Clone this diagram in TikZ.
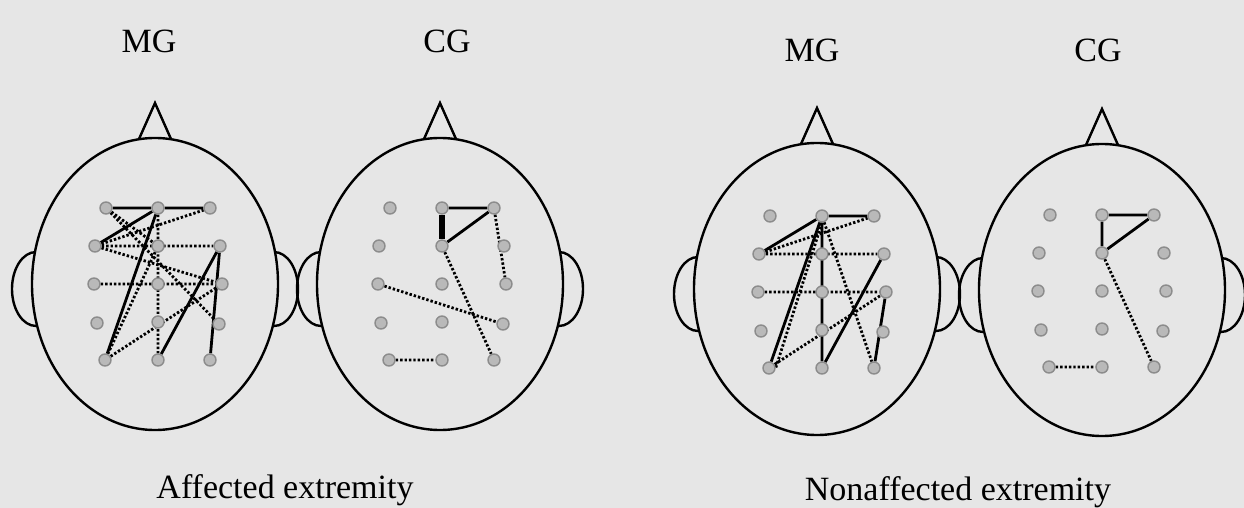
\documentclass[tikz,border=0pt]{standalone}
\usepackage{fontspec}
\setmainfont{Liberation Serif}
\usetikzlibrary{backgrounds}
\definecolor{scalpbg}{RGB}{230,230,230}
\definecolor{electrodefill}{RGB}{185,185,185}
\definecolor{electrodeline}{RGB}{140,140,140}

\begin{document}
\begin{tikzpicture}[x=0.5pt,y=-0.5pt,
    font=\fontsize{17}{20}\selectfont,
    electrode/.style={circle,draw=electrodeline,fill=electrodefill,line width=0.7pt,inner sep=0pt,minimum size=6pt},
    outline/.style={line width=1.2pt},
    strong/.style={line width=1.4pt},
    weak/.style={line width=1.4pt,dash pattern=on 1.2pt off 1pt},
    caption/.style={anchor=base}]
  \useasboundingbox (0,0) rectangle (1244,508);
  \begin{scope}[on background layer]
    \fill[scalpbg] (0,0) rectangle (1244,508);
    \foreach \hx/\hy in {155/284,440/284,817/289,1102/290}{
      \draw[outline] ({\hx-119},{\hy+5}) ellipse (12pt and 18.5pt)
        ({\hx+119},{\hy+5}) ellipse (12pt and 18.5pt);
      \filldraw[outline,fill=scalpbg] (\hx,\hy) ellipse (61.5pt and 73pt);
      \draw[outline] ({\hx-16},{\hy-145}) -- (\hx,{\hy-181}) -- ({\hx+16},{\hy-145});
    }
  \end{scope}
  \foreach \h/\cx/\ty in {a/158/208,b/442/208,c/822/216,d/1102/215}
    \foreach \n/\dx/\dy in {F3/-52/0,Fz/0/0,F4/52/0,FC3/-63/38,FCz/0/38,FC4/62/38,
        C3/-64/76,Cz/0/76,C4/64/76,CP3/-61/115,CPz/0/114,CP4/61/116,P3/-53/152,Pz/0/152,P4/52/152}
      \node[electrode] (\h\n) at ({\cx+\dx},{\ty+\dy}) {};
  \begin{scope}[on background layer]
    \draw[strong] (aF3) -- (aFz) -- (aF4) (aFz) -- (aFC3) (aFz) -- (aP3)
      (aFC4) -- (aPz) (aFC4) -- (aP4);
    \draw[weak] (aFC3) -- (aF4) (aF3) -- (aFCz) (aFC3) -- (aFC4) (aC3) -- (aC4)
      (aFC3) -- (aC4) (aF3) -- (aCP4) (aFCz) -- (aP3) (aP3) -- (aC4) (aFz) -- (aPz);
    \draw[strong] (bFz) -- (bF4) -- (bFCz);
    \draw[line width=3pt] (bFz) -- (bFCz);
    \draw[weak] (bF4) -- (bC4) (bC3) -- (bCP4) (bFCz) -- (bP4) (bP3) -- (bPz);
    \draw[strong] (cFz) -- (cF4) (cFz) -- (cFC3) (cFz) -- (cP3) (cFz) -- (cPz)
      (cPz) -- (cFC4) (cC4) -- (cP4);
    \draw[weak] (cFC3) -- (cF4) (cFC3) -- (cFC4) (cC3) -- (cC4) (cFz.south) -- (cP3.east)
      (cFz) -- (cP4) (cP3) -- (cC4);
    \draw[strong] (dFz) -- (dF4) -- (dFCz) -- (dFz);
    \draw[weak] (dFCz) -- (dP4) (dP3) -- (dPz);
  \end{scope}
  \node[caption] (mgA) at (149,53) {MG};
  \node[caption] (cgA) at (447,53) {CG};
  \node[caption] (mgN) at (812,62) {MG};
  \node[caption] (cgN) at (1098,62) {CG};
  \node[caption] (affected) at (285,498) {Affected extremity};
  \node[caption] (nonaffected) at (958,500) {Nonaffected extremity};
\end{tikzpicture}
\end{document}
